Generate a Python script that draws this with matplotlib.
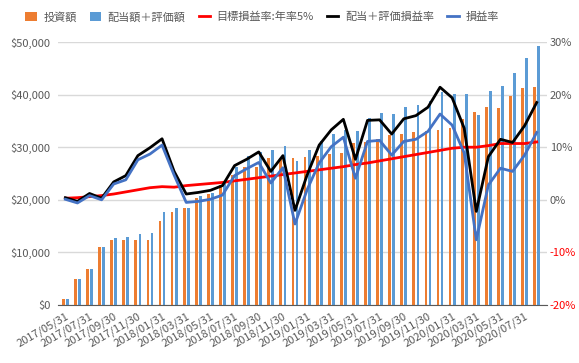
import matplotlib
matplotlib.use("Agg")
import matplotlib.pyplot as plt
import numpy as np
import pandas as pd
from matplotlib.ticker import FuncFormatter

plt.rcParams["font.family"] = ["Noto Sans CJK JP", "DejaVu Sans"]

# month-end dates, 2017/05 .. 2020/08
dates = pd.date_range("2017-05-31", periods=40, freq="ME").strftime("%Y/%m/%d").tolist()

# 投資額
invest = [1080, 4900, 6780, 11030, 12300, 12300, 12300, 12360, 15970, 17620,
          18440, 20340, 21100, 22870, 24700, 26300, 26300, 27900, 27900, 27900,
          28080, 28330, 28710, 28960, 30860, 31050, 31500, 32260, 32510, 32890,
          33080, 33270, 33590, 35400, 36690, 37580, 37390, 39730, 41190, 41380]

# 配当額＋評価額
value = [1080, 4900, 6880, 11030, 12700, 12930, 13440, 13630, 17620, 18440,
         18440, 20720, 21230, 23500, 26300, 28300, 29150, 29470, 30230, 27400,
         29470, 31120, 32510, 33270, 33080, 35610, 36440, 36310, 37580, 38020,
         38780, 40490, 40110, 40110, 36120, 40620, 41580, 44050, 46900, 49240]

# 目標損益率:年率5% (%)
target = [0.3, 0.4, 0.6, 0.8, 1.1, 1.5, 1.9, 2.3, 2.5, 2.4,
          2.7, 2.9, 3.1, 3.3, 3.6, 3.9, 4.2, 4.5, 4.8, 5.1,
          5.4, 5.7, 6.0, 6.3, 6.7, 7.0, 7.4, 7.8, 8.2, 8.6,
          9.0, 9.4, 9.8, 10.0, 10.0, 10.3, 10.7, 10.7, 10.7, 11.0]

# 配当＋評価損益率 (%)
total_rate = [0.4, -0.3, 1.2, 0.3, 3.4, 4.6, 8.4, 9.9, 11.6, 5.4,
              1.1, 1.4, 1.8, 2.7, 6.5, 7.7, 9.1, 5.4, 8.4, -2.0,
              4.7, 10.4, 13.3, 15.3, 7.7, 15.1, 15.2, 12.5, 15.4, 16.0,
              17.6, 21.4, 19.4, 13.6, -2.2, 8.2, 11.5, 10.9, 14.1, 18.5]

# 損益率 (%)
rate = [0.1, -0.6, 0.8, 0.0, 3.0, 3.8, 7.6, 8.7, 10.4, 4.7,
        -0.5, -0.3, 0.1, 0.9, 4.6, 5.9, 7.1, 3.2, 6.1, -4.6,
        1.9, 7.0, 10.1, 11.9, 4.1, 11.1, 11.3, 8.5, 11.1, 11.5,
        13.0, 16.3, 14.2, 8.9, -7.6, 2.8, 6.0, 5.4, 8.5, 12.8]


def main():
    x = np.arange(len(dates))
    gray = "#595959"

    fig = plt.figure(figsize=(5.79, 3.63), dpi=100)
    ax = fig.add_axes([57.5 / 579, 1 - 305 / 363, (547 - 57.5) / 579, (305 - 42) / 363])
    ax2 = ax.twinx()

    w = 0.23
    b1 = ax.bar(x - 0.17, invest, w, color="#ED7D31", label="投資額", zorder=2)
    b2 = ax.bar(x + 0.17, value, w, color="#5B9BD5", label="配当額＋評価額", zorder=2)

    l1, = ax2.plot(x, target, color="#FF0000", lw=2, label="目標損益率:年率5%")
    l2, = ax2.plot(x, total_rate, color="#000000", lw=2, label="配当＋評価損益率")
    l3, = ax2.plot(x, rate, color="#4472C4", lw=2, label="損益率")

    ax.set_xlim(-0.65, 39.85)
    ax.set_ylim(0, 50000)
    ax2.set_ylim(-20, 30)
    ax.set_yticks(range(0, 50001, 10000))
    ax2.set_yticks(range(-20, 31, 10))
    ax.yaxis.set_major_formatter(FuncFormatter(lambda v, p: "${:,.0f}".format(v)))
    ax2.yaxis.set_major_formatter(FuncFormatter(lambda v, p: "{:.0f}%".format(v)))

    ax.grid(axis="y", color="#D9D9D9", lw=1, zorder=0)
    ax.set_axisbelow(True)

    for a in (ax, ax2):
        for s in ("top", "left", "right", "bottom"):
            a.spines[s].set_visible(False)
    ax.spines["bottom"].set_visible(True)
    ax.spines["bottom"].set_color(gray)

    ax.set_xticks(x[::2])
    ax.set_xticklabels(dates[::2], rotation=30, ha="right", rotation_mode="anchor")
    ax.tick_params(axis="x", length=0, labelsize=8, colors=gray, pad=4)
    ax.tick_params(axis="y", length=0, labelsize=8, colors=gray, pad=5)
    ax2.tick_params(axis="y", length=0, labelsize=8, colors=gray, pad=2)
    for t, v in zip(ax2.get_yticklabels(), ax2.get_yticks()):
        if v < 0:
            t.set_color("#FF0000")

    fig.legend(handles=[b1, b2, l1, l2, l3], loc="center",
               bbox_to_anchor=(262 / 579, 1 - 17 / 363), ncol=5, frameon=False,
               fontsize=8, handlelength=1.0, handleheight=0.9, handletextpad=0.6,
               columnspacing=1.2, labelcolor=gray)

    fig.savefig("out.png", dpi=100)


if __name__ == "__main__":
    main()
